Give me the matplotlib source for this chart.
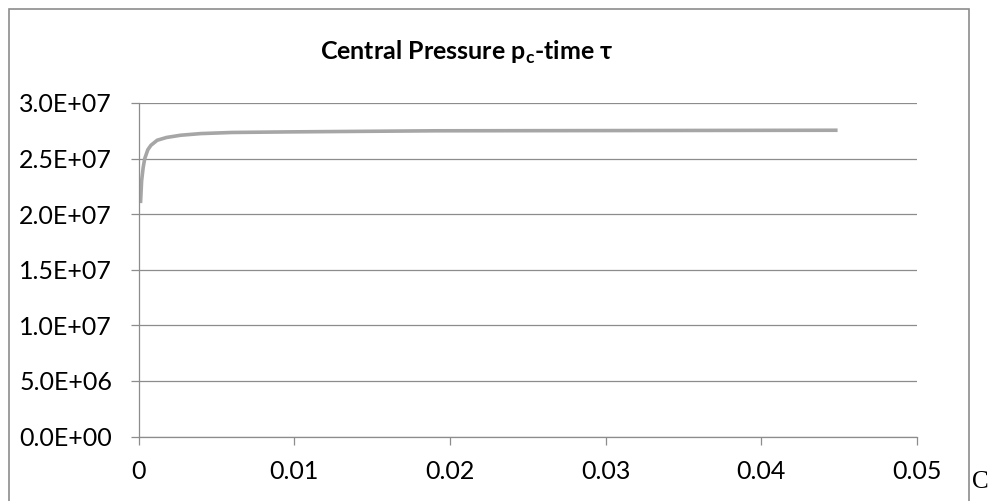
import matplotlib
matplotlib.use("Agg")
import matplotlib.pyplot as plt
from matplotlib.patches import Rectangle
from matplotlib.ticker import FuncFormatter

plt.rcParams['font.family'] = ['Lato', 'DejaVu Sans']

# time tau and central pressure p_c
tau = [0.00013, 0.0002, 0.0003, 0.0004, 0.0006, 0.0008, 0.0012, 0.0018,
       0.0027, 0.004, 0.006, 0.0095, 0.019, 0.03, 0.0449]
p_c = [2.10e7, 2.30e7, 2.42e7, 2.50e7, 2.58e7, 2.62e7, 2.665e7, 2.69e7,
       2.71e7, 2.725e7, 2.735e7, 2.74e7, 2.75e7, 2.752e7, 2.755e7]

x_ticks = [0, 0.01, 0.02, 0.03, 0.04, 0.05]
y_ticks = [0, 5e6, 1e7, 1.5e7, 2e7, 2.5e7, 3e7]

W, H = 997, 501
fig = plt.figure(figsize=(W / 100, H / 100), dpi=100)

# outer chart frame
fig.patches.append(Rectangle((8.5 / W, -0.05), (968.5 - 8.5) / W, 1.05 - 9.5 / H,
                             transform=fig.transFigure, fill=False,
                             edgecolor='#8c8c8c', linewidth=1.2))

ax = fig.add_axes([138.5 / W, 1 - 436.6 / H, (917 - 138.5) / W, (436.6 - 103) / H])
ax.plot(tau, p_c, color='#a6a6a6', linewidth=2.6, solid_capstyle='butt')

ax.set_xlim(0, 0.05)
ax.set_ylim(0, 3e7)
ax.set_xticks(x_ticks)
ax.set_yticks(y_ticks)
ax.xaxis.set_major_formatter(FuncFormatter(lambda v, p: '0' if v == 0 else f'{v:g}'))
ax.yaxis.set_major_formatter(FuncFormatter(lambda v, p: f'{v:.1E}'))

ax.grid(axis='y', color='#8c8c8c', linewidth=0.9)
ax.set_axisbelow(True)
for side in ('top', 'right'):
    ax.spines[side].set_visible(False)
for side in ('left', 'bottom'):
    ax.spines[side].set_color('#8c8c8c')
    ax.spines[side].set_linewidth(0.9)
ax.tick_params(axis='both', direction='out', length=6, width=0.9, color='#8c8c8c',
               labelsize=18, labelcolor='black')
ax.tick_params(axis='y', pad=13)
ax.tick_params(axis='x', pad=11)

fig.text(467 / W, 1 - 52 / H, r'Central Pressure p$_\mathregular{c}$-time τ',
         ha='center', va='center', fontsize=18, fontweight='bold')

fig.text(972 / W, 1 - 482 / H, 'C', fontfamily='Liberation Serif', fontsize=18,
         ha='left', va='center')

fig.savefig('out.png', dpi=100)
